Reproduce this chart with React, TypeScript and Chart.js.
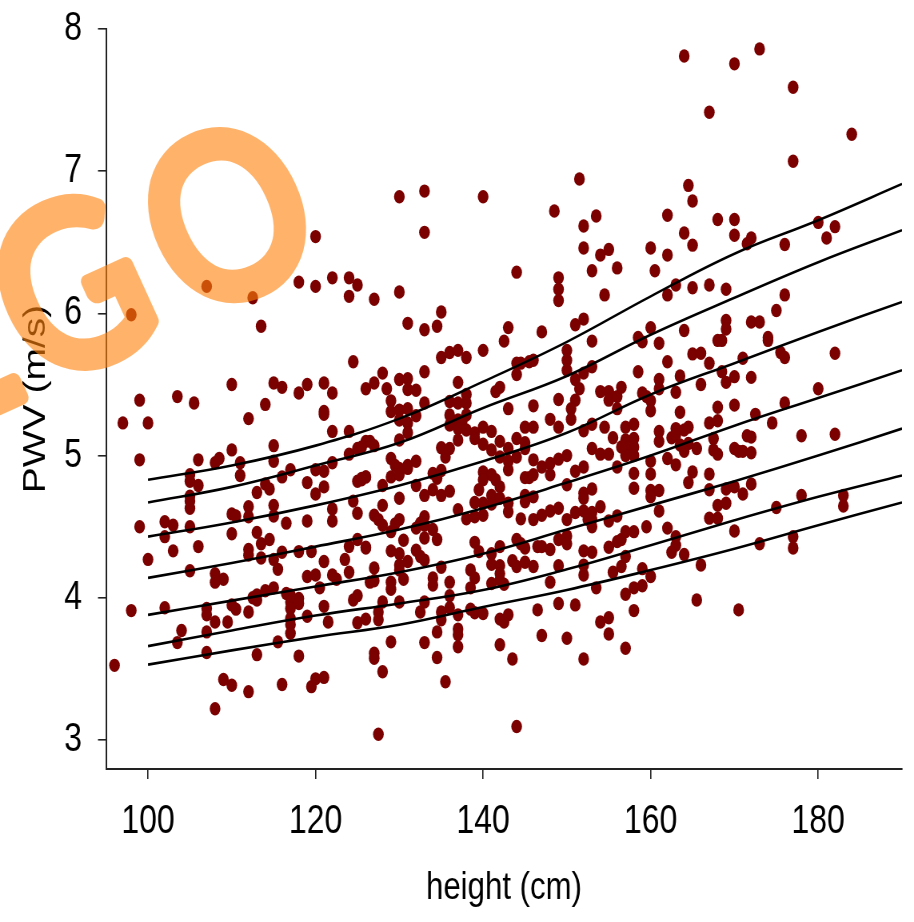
import React, { useEffect, useRef } from "react";
import { Chart, registerables } from "chart.js";
Chart.register(...registerables);

const xTickValues = [100, 120, 140, 160, 180];
const yTickValues = [3, 4, 5, 6, 7, 8];
const curveHeights = [100, 110, 120, 130, 140, 150, 160, 170, 180, 190];
const curve1 = [4.83, 4.93, 5.07, 5.26, 5.52, 5.8, 6.12, 6.42, 6.655, 6.91];
const curve2 = [4.67, 4.78, 4.93, 5.09, 5.335, 5.56, 5.85, 6.11, 6.36, 6.585];
const curve3 = [4.43, 4.53, 4.65, 4.79, 4.96, 5.16, 5.43, 5.65, 5.87, 6.08];
const curve4 = [4.14, 4.245, 4.36, 4.48, 4.63, 4.81, 5.0, 5.21, 5.405, 5.6];
const curve5 = [3.88, 3.98, 4.08, 4.18, 4.31, 4.48, 4.65, 4.82, 5.0, 5.19];
const curve6 = [3.66, 3.77, 3.875, 3.96, 4.055, 4.2, 4.37, 4.545, 4.71, 4.86];
const curve7 = [3.53, 3.63, 3.725, 3.81, 3.935, 4.055, 4.195, 4.345, 4.51, 4.67];

const hA = [97,99,100,99,103.5,105.5,110,112,114,115,116,118,119,121,122,121,121,126];
const vA = [5.23,5.39,5.23,4.97,5.415,5.37,5.5,5.26,5.36,5.51,5.48,5.44,5.5,5.51,5.44,5.31,5.29,5.47];
const hB = [106,108,108.5,110,111,111,115,115,117,116,120,121,122,119,121,120,124,124,125,126.5,122,105,105,106,105,105,105,114,114.5,113,125,125.5,126,124.5,125,122,122];
const vB = [4.97,4.95,4.98,5.04,4.95,4.86,5.07,4.96,4.9,4.85,4.9,4.89,4.95,4.81,4.78,4.73,5.17,5.01,5.05,5.1,5.17,4.865,4.82,4.79,4.715,4.68,4.63,4.8,4.765,4.74,4.82,4.84,4.85,4.68,4.595,4.625,4.54];
const hC = [99,102,103,102,105,100,103,106,110,110.5,112,112,110,115,115,116.5,119,113,114.5,113.5,112,112,113.5,115,115.5,116,118,119.5,121,123.5,124,125,126,124,105,108,109,119,120,122,122.5];
const vC = [4.5,4.535,4.51,4.43,4.5,4.27,4.33,4.36,4.59,4.575,4.64,4.57,4.45,4.65,4.575,4.525,4.54,4.46,4.41,4.38,4.34,4.3,4.28,4.27,4.2,4.32,4.325,4.325,4.255,4.27,4.36,4.41,4.35,4.18,4.19,4.17,4.13,4.15,4.16,4.16,4.13];
const hD = [108,126.5,98,102,96,104,103.5,107,107,108,109.5,110,110.5,112,107,107,120.5,121,119,121.5,113,112.5,113,114,115,116.5,117,118,117,118,117,117,117,117,115.5,113,118,109,110,112,116,108,119.5,120,121,124.5,125,125,126];
const vD = [4.11,4.11,3.91,3.93,3.525,3.77,3.685,3.925,3.88,3.83,3.83,3.95,3.92,3.9,3.76,3.615,4.07,3.94,3.87,3.83,4.02,4.0,3.985,4.05,4.07,4.03,4.02,3.995,3.97,3.96,3.925,3.855,3.81,3.75,3.69,3.6,3.59,3.425,3.385,3.34,3.39,3.22,3.375,3.43,3.44,3.985,4.015,3.825,3.85];
const hE1 = [135,136,137,138,140,142.5,128,127,128.5,130,131,131,132,133,137,129,129,130,131,132,133,130,131,131,130,136,137,138,138,136,136,137,138,137.5,137,138,137,139,139,140,141];
const vE1 = [5.69,5.725,5.74,5.69,5.74,5.805,5.58,5.51,5.47,5.535,5.54,5.465,5.46,5.59,5.515,5.385,5.31,5.32,5.33,5.28,5.37,5.25,5.23,5.16,5.11,5.38,5.37,5.43,5.37,5.285,5.215,5.25,5.285,5.24,5.19,5.18,5.11,5.16,5.12,5.2,5.17];
const hE2 = [140,141,142,142,143,144,145,145,144,143,143,141.5,142,143,144,144,144.5,145.5,146,146,145,146,148,149,149,150,150,150,151,152,153,151.5,151,150.5,150.5,153,152,153,154.5,155.5,154,155,155,156,156.5,156,153,154,155,156];
const vE2 = [5.08,5.04,5.1,4.99,5.05,5.12,5.09,5.05,4.99,4.96,4.9,5.45,5.48,5.33,5.65,5.57,5.65,5.66,5.67,5.35,5.2,5.2,5.255,5.2,5.395,5.74,5.67,5.6,5.535,5.58,5.625,5.47,5.39,5.33,5.255,5.805,5.175,5.22,5.2,5.125,5.45,5.45,5.39,5.415,5.48,5.33,5.05,5.01,5.01,4.92];
const hE3 = [126,127,125.5,135,136,135.5,129,129.5,130,131,132,129,130,131,126,125.5,128,132,134,134.5,135,134,135,136,133,130,128,140,141,140,139.5,141.5,142,141,142,140,139,141,143,143,137,138,139,140];
const vE3 = [5.1,5.07,5.06,5.055,5.05,4.99,4.98,4.93,4.91,4.93,4.96,4.85,4.865,4.91,4.85,4.83,4.79,4.79,4.875,4.84,4.895,4.76,4.72,4.75,4.72,4.7,4.65,4.885,4.865,4.83,4.76,4.83,4.78,4.72,4.7,4.665,4.67,4.66,4.665,4.605,4.62,4.555,4.57,4.58];
const hE4 = [145,145,146,144.5,146,147,148,149,150,151,152,153,154,153,152.5,153,155,156,152,152,153,150,145,145.5,146,146,147,148,148,149,150,151,152,127,127.5,128,129,129.5,130,133,132.5,132,133,134];
const vE4 = [4.72,4.675,4.71,4.555,4.55,4.58,4.61,4.63,4.55,4.6,4.61,4.6,4.64,4.55,4.55,4.5,4.54,4.575,4.735,4.7,4.765,4.795,4.845,4.845,4.865,4.97,4.92,4.945,4.865,4.975,5.0,4.89,4.92,4.58,4.55,4.51,4.465,4.52,4.55,4.57,4.525,4.49,4.51,4.48];
const hF1 = [126,129,130,130.5,131,132,132.5,133,133,134.5,135,130,130,127,127,130.5,129,129,134,134,136,139,139.5,141,142,144,144.5,145,146.5,147,148,149,150,150,152,153,155,156,156.5];
const vF1 = [4.355,4.33,4.31,4.405,4.255,4.335,4.29,4.265,4.42,4.41,4.215,4.23,4.195,4.21,4.12,4.13,4.11,4.06,4.14,4.09,4.11,4.39,4.325,4.31,4.36,4.41,4.38,4.35,4.36,4.36,4.34,4.41,4.435,4.38,4.33,4.32,4.355,4.395,4.41];
const hF2 = [141,143.5,144,145,146,142,142,149,152,152,155.5,156.5,157,138.5,139,138.5,141,142.5,142,148,153.5,157,128,130,133,136,136,132.5,127.5,127.5,135,135,137,138.5,139,140];
const vF2 = [4.235,4.26,4.22,4.25,4.22,4.225,4.17,4.225,4.23,4.16,4.18,4.22,4.29,4.195,4.14,4.07,4.1,4.095,4.125,4.11,4.07,4.025,3.97,3.97,3.97,4.015,3.93,3.9,3.9,3.845,3.9,3.845,3.88,3.92,3.895,3.89];
const hF3 = [142,142.5,143,146.5,149,151,154,155,155,134.5,137,137,137,133,129,142,147,150,157,152,127,127,134.5,128,143.5,135.5,127.5,144];
const vF3 = [3.85,3.83,3.88,3.915,3.96,3.95,3.83,3.86,3.745,3.76,3.78,3.74,3.655,3.685,3.69,3.67,3.735,3.715,3.645,3.57,3.61,3.575,3.58,3.48,3.57,3.41,3.04,3.095];
const hG1 = [159,161,168.5,174,165,166,162,167,171,175.5,176,182,158.5,163.5,161,161,168.5,170,172,166,169,159,159.5,160,160,163,163.5,168,170,172.5,176,180];
const vG1 = [5.8,5.79,5.81,5.81,5.715,5.72,5.66,5.65,5.685,5.725,5.69,5.72,5.59,5.56,5.535,5.47,5.59,5.555,5.55,5.5,5.515,5.44,5.415,5.385,5.315,5.445,5.305,5.34,5.355,5.29,5.37,5.47];
const hG2 = [157,158,167,168,164.5,164,163,162.5,163,174.5,161,161,157,158,158,157,158,157,156.5,163.5,164.5,164,165.5,167.5,167.5,168,170,170.5,171,172,171.5,172,178,182];
const vG2 = [5.2,5.22,5.23,5.245,5.2,5.18,5.19,5.125,5.145,5.23,5.17,5.1,5.11,5.12,5.06,5.05,5.0,5.0,5.06,5.075,5.085,5.03,5.05,5.12,5.04,5.01,5.05,5.03,5.03,5.02,5.14,5.13,5.14,5.15];
const hG3 = [160,162,163,158,160,165,164.5,167,158,160,160,161,161,167,169,170,172,171,168,169,167,168,175,178,183,183,159.5,162,158,157,163,163,162.5,164,170,166,159,160,159,158,158,165.5,170.5,173,177,177];
const vG3 = [4.96,4.98,4.935,4.875,4.87,4.885,4.81,4.87,4.77,4.755,4.71,4.755,4.61,4.76,4.765,4.78,4.8,4.73,4.65,4.665,4.56,4.56,4.635,4.72,4.72,4.645,4.5,4.49,4.465,4.465,4.43,4.37,4.32,4.305,4.47,4.23,4.205,4.15,4.085,4.07,3.91,3.985,3.915,4.38,4.43,4.35];
const hH1 = [164,170,173,177,167,184,177,164.5,165,151.5,148.5,133,130,140,133,120,153.5,152,152,162,168,170,164,170,172,171.5,165,160,162,176,180,181,182,155,154,153,156,144,160.5];
const vH1 = [7.81,7.755,7.86,7.59,7.415,7.26,7.07,6.9,6.79,6.945,6.72,6.86,6.82,6.82,6.57,6.54,6.685,6.615,6.46,6.69,6.66,6.66,6.565,6.55,6.53,6.49,6.48,6.46,6.41,6.485,6.64,6.53,6.61,6.45,6.41,6.3,6.32,6.29,6.3];
const hH2 = [149,149,149,154.5,107,98,112.5,113.5,118,120,122,124,125,124,127,130,131,133,134.5,135,143,147,151,152,162,163,165,167,169,176,175,164,169,169,172,173,168,174,160,158.5,124.5];
const vH2 = [6.25,6.17,6.09,6.13,6.19,5.99,6.11,5.91,6.22,6.19,6.25,6.25,6.2,6.12,6.1,6.15,5.93,5.885,5.91,6.01,5.9,5.87,5.92,5.96,6.13,6.2,6.18,6.2,6.17,6.13,6.02,5.88,5.95,5.89,5.94,5.94,5.81,5.83,5.9,5.83,5.66];

const heights = [...hA, ...hB, ...hC, ...hD, ...hE1, ...hE2, ...hE3, ...hE4, ...hF1, ...hF2, ...hF3, ...hG1, ...hG2, ...hG3, ...hH1, ...hH2];
const pwv = [...vA, ...vB, ...vC, ...vD, ...vE1, ...vE2, ...vE3, ...vE4, ...vF1, ...vF2, ...vF3, ...vG1, ...vG2, ...vG3, ...vH1, ...vH2];
const curves = [curve1, curve2, curve3, curve4, curve5, curve6, curve7];

const FONT = '"Liberation Sans", Arial, sans-serif';
const SQUEEZE = 0.8;
const CANVAS_W = 1143;

const watermark = {
  id: "watermark",
  afterDraw(chart: any) {
    const main = chart.ctx;
    const off = document.createElement("canvas");
    off.width = chart.canvas.width;
    off.height = chart.canvas.height;
    const g: any = off.getContext("2d")!;
    g.scale(1 / SQUEEZE, 1);
    g.translate(80, 291);
    g.rotate((-24.5 * Math.PI) / 180);
    g.scale(0.87, 1);
    g.font = '224px "Lato", sans-serif';
    g.letterSpacing = "26px";
    g.textAlign = "left";
    g.textBaseline = "middle";
    g.lineJoin = "round";
    g.lineWidth = 15;
    g.fillStyle = "rgb(255,131,12)";
    g.strokeStyle = "rgb(255,131,12)";
    const before = g.measureText("L").width;
    const half = (g.measureText("G").width - 26) / 2;
    g.strokeText("LGO", -before - half, 0);
    g.fillText("LGO", -before - half, 0);
    main.save();
    main.globalAlpha = 0.61;
    main.drawImage(off, 0, 0);
    main.restore();
  },
};

export default function App() {
  const ref = useRef<HTMLCanvasElement>(null);
  useEffect(() => {
    const datasets: any[] = [
      {
        type: "scatter",
        data: heights.map((h, i) => ({ x: h, y: pwv[i] })),
        pointStyle: "circle",
        pointRadius: 6.7,
        pointBorderWidth: 0,
        pointBackgroundColor: "#7b0000",
        order: 2,
      },
      ...curves.map((c) => ({
        type: "line",
        data: curveHeights.map((h, i) => ({ x: h, y: c[i] })),
        borderColor: "#000",
        borderWidth: 2.6,
        pointRadius: 0,
        tension: 0.4,
        fill: false,
        order: 1,
      })),
    ];
    const chart = new Chart(ref.current!, {
      type: "scatter",
      data: { datasets },
      plugins: [watermark],
      options: {
        animation: false,
        responsive: false,
        layout: { padding: { top: 29, right: 15, left: 0, bottom: 0 } },
        plugins: { legend: { display: false }, tooltip: { enabled: false } },
        scales: {
          x: {
            type: "linear",
            min: 94.98,
            max: 190,
            afterBuildTicks: (s: any) => { s.ticks = xTickValues.map((value) => ({ value })); },
            afterFit: (s: any) => { s.height = 153; s.paddingLeft = 0; s.paddingRight = 0; },
            border: { color: "#222", width: 2 },
            grid: { drawOnChartArea: false, color: "#222", lineWidth: 1.6, tickLength: 10 },
            ticks: { color: "#000", font: { family: FONT, size: 40 }, padding: 19, maxRotation: 0, autoSkip: false },
            title: { display: true, text: "height (cm)", color: "#000", font: { family: FONT, size: 39 }, padding: { top: 0, bottom: 10 } },
          },
          y: {
            type: "linear",
            min: 2.796,
            max: 8,
            afterBuildTicks: (s: any) => { s.ticks = yTickValues.map((value) => ({ value })); },
            afterFit: (s: any) => { s.width = 132.5; s.paddingTop = 0; s.paddingBottom = 0; },
            border: { color: "#222", width: 2 },
            grid: { drawOnChartArea: false, color: "#222", lineWidth: 1.6, tickLength: 10 },
            ticks: { color: "#000", font: { family: FONT, size: 40 }, padding: 20, autoSkip: false },
            title: { display: true, text: "PWV (m/s)", color: "#000", font: { family: FONT, size: 39 }, padding: { top: 22, bottom: 0 } },
          },
        },
      },
    } as any);
    return () => chart.destroy();
  }, []);
  return (
    <canvas
      ref={ref}
      width={CANVAS_W}
      height={922}
      style={{ position: "absolute", left: 0, top: 0, width: CANVAS_W * SQUEEZE, height: 922 }}
    />
  );
}
